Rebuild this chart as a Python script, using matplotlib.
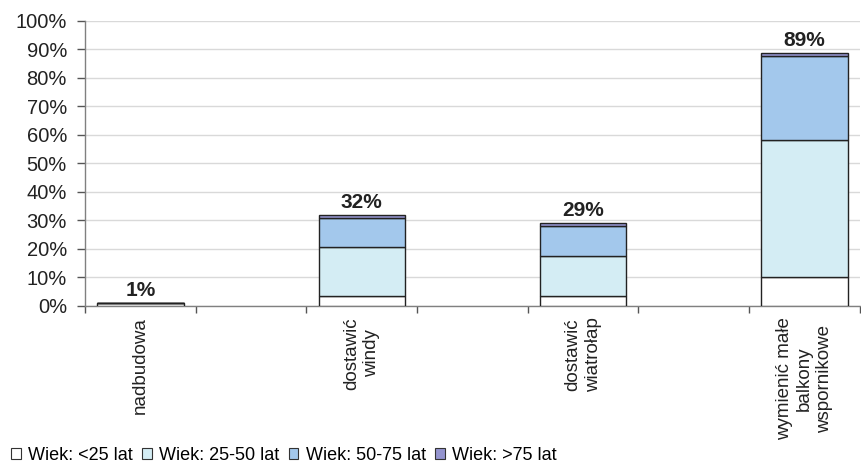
import numpy as np
import matplotlib
matplotlib.use("Agg")
import matplotlib.pyplot as plt
from matplotlib.patches import Patch

plt.rcParams["font.family"] = ["Liberation Sans", "DejaVu Sans"]

# ─── Data (%, stacked by age group; empty slots keep the spacing) ─────────────
categories = ["nadbudowa", "", "dostawić\nwindy", "", "dostawić\nwiatrołap", "",
              "wymienić małe\nbalkony\nwspornikowe"]
age_lt25  = [1.0, 0, 3.5, 0, 3.5, 0, 10.1]
age_25_50 = [0.0, 0, 17.2, 0, 14.0, 0, 48.1]
age_50_75 = [0.0, 0, 10.2, 0, 10.7, 0, 29.4]
age_gt75  = [0.0, 0, 1.1, 0, 1.0, 0, 1.2]
series_names = ["Wiek: <25 lat", "Wiek: 25-50 lat", "Wiek: 50-75 lat", "Wiek: >75 lat"]
colors = ["#FFFFFF", "#D4EDF4", "#A3C8EC", "#9494CF"]
yticks = [0, 10, 20, 30, 40, 50, 60, 70, 80, 90, 100]

stack = np.array([age_lt25, age_25_50, age_50_75, age_gt75])
totals = stack.sum(axis=0)
x = np.arange(len(categories))

fig = plt.figure(figsize=(8.61, 4.65), dpi=100)
ax = fig.add_axes([0.0987, 0.342, 0.9, 0.613])

bottom = np.zeros(len(categories))
for vals, col in zip(stack, colors):
    keep = totals > 0
    ax.bar(x[keep], vals[keep], bottom=bottom[keep], width=0.78, color=col,
           edgecolor="#222222", linewidth=1.0, zorder=3)
    bottom += vals

for xi, t in zip(x, totals):
    if t > 0:
        ax.text(xi, t + 1.0, f"{t:.0f}%", ha="center", va="bottom",
                fontsize=15, fontweight="bold", color="#222222", zorder=4)

ax.set_xlim(-0.5, len(categories) - 0.5)
ax.set_ylim(0, 100)
ax.set_yticks(yticks)
ax.set_yticklabels([f"{v}%" for v in yticks], fontsize=14.5, color="#222222")
ax.yaxis.grid(True, color="#D9D9D9", linewidth=1.0, zorder=0)
ax.tick_params(axis="y", length=6, width=1, color="#555555", pad=7)

# category boundaries as ticks, names centred under the slots
ax.set_xticks(np.arange(-0.5, len(categories), 1.0))
ax.set_xticklabels([])
ax.tick_params(axis="x", which="major", length=5, width=1, color="#555555")
ax.set_xticks(x, minor=True)
ax.set_xticklabels(categories, minor=True, rotation=90, fontsize=13.5,
                   color="#222222", linespacing=1.25, multialignment="center")
ax.tick_params(axis="x", which="minor", length=0, pad=8)

for side in ["top", "right"]:
    ax.spines[side].set_visible(False)
for side in ["left", "bottom"]:
    ax.spines[side].set_color("#808080")
    ax.spines[side].set_linewidth(1.0)

handles = [Patch(facecolor=c, edgecolor="#333333", linewidth=0.8) for c in colors]
fig.legend(handles, series_names, loc="lower left", bbox_to_anchor=(0.013, 0.002),
           ncol=4, frameon=False, fontsize=13, handlelength=0.55, handleheight=0.55,
           handletextpad=0.4, columnspacing=0.5, borderaxespad=0.0, borderpad=0.0)

fig.savefig("out.png", dpi=100)
